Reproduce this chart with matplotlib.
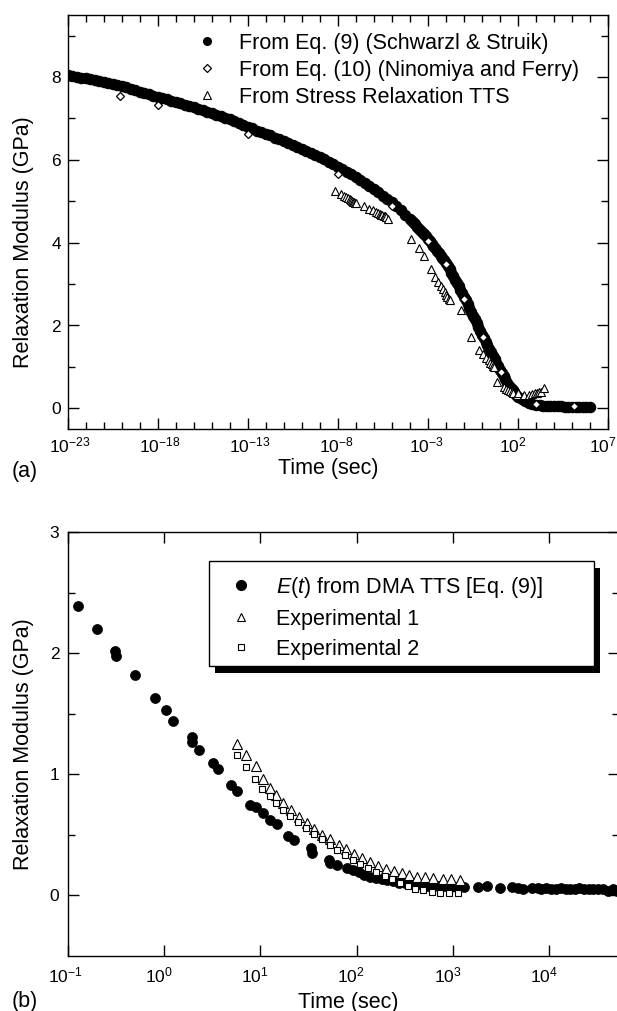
import numpy as np
import matplotlib
matplotlib.use("Agg")
import matplotlib.pyplot as plt
from matplotlib.ticker import FixedLocator, NullFormatter, NullLocator
from matplotlib.patches import Rectangle
from matplotlib.lines import Line2D
from matplotlib.transforms import ScaledTranslation

plt.rcParams['font.family'] = ['Liberation Sans', 'DejaVu Sans']
plt.rcParams['mathtext.fontset'] = 'custom'
plt.rcParams['mathtext.rm'] = 'Liberation Sans'
plt.rcParams['mathtext.it'] = 'Liberation Sans:italic'
plt.rcParams['mathtext.bf'] = 'Liberation Sans:bold'

# ---------------- Panel (a) data: log10(time / s) and modulus (GPa) ----------------
a_eq9_logt = [
    -23.0, -22.75, -22.5, -22.25, -22.0, -21.75, -21.5, -21.25, -21.0, -20.75,
    -20.5, -20.25, -20.0, -19.75, -19.5, -19.25, -19.0, -18.75, -18.5, -18.25,
    -18.0, -17.75, -17.5, -17.25, -17.0, -16.75, -16.5, -16.25, -16.0, -15.75,
    -15.5, -15.25, -15.0, -14.75, -14.5, -14.25, -14.0, -13.75, -13.5, -13.25,
    -13.0, -12.75, -12.5, -12.25, -12.0, -11.75, -11.5, -11.25, -11.0, -10.75,
    -10.5, -10.25, -10.0, -9.75, -9.5, -9.25, -9.0, -8.75, -8.5, -8.25,
    -8.0, -7.75, -7.5, -7.25, -7.0, -6.75, -6.5, -6.25, -6.0, -5.75,
    -5.5, -5.25, -5.0, -4.75, -4.5, -4.25,
    -4.0, -3.9, -3.8, -3.7, -3.6, -3.5, -3.4, -3.3, -3.2, -3.1,
    -3.0, -2.9, -2.8, -2.7, -2.6, -2.5, -2.4, -2.3, -2.2, -2.1,
    -2.0, -1.9, -1.8, -1.7, -1.6, -1.5, -1.4, -1.3, -1.2, -1.1,
    -1.0, -0.9, -0.8, -0.7, -0.6, -0.5, -0.4, -0.3, -0.2, -0.1,
    0.0, 0.1, 0.2, 0.3, 0.4, 0.5, 0.6, 0.7, 0.8, 0.9,
    1.0, 1.1, 1.2, 1.3, 1.4, 1.5, 1.6, 1.7, 1.8, 1.9,
    2.0, 2.2, 2.4, 2.6, 2.8, 3.0, 3.2, 3.4, 3.6, 3.8,
    4.0, 4.2, 4.4, 4.6, 4.8, 5.0, 5.2, 5.4, 5.6, 5.8, 6.0,
]
a_eq9_E = [
    8.05, 8.03, 8.01, 7.99, 7.97, 7.95, 7.92, 7.90, 7.88, 7.85,
    7.83, 7.80, 7.78, 7.75, 7.71, 7.68, 7.65, 7.62, 7.58, 7.55,
    7.52, 7.49, 7.46, 7.43, 7.40, 7.37, 7.33, 7.30, 7.27, 7.23,
    7.20, 7.16, 7.13, 7.09, 7.05, 7.02, 6.98, 6.93, 6.89, 6.84,
    6.80, 6.76, 6.71, 6.67, 6.63, 6.59, 6.54, 6.50, 6.46, 6.41,
    6.36, 6.32, 6.27, 6.22, 6.17, 6.12, 6.07, 6.01, 5.96, 5.90,
    5.84, 5.78, 5.71, 5.65, 5.58, 5.51, 5.44, 5.37, 5.30, 5.22,
    5.14, 5.06, 4.98, 4.88, 4.78, 4.68,
    4.58, 4.53, 4.48, 4.44, 4.39, 4.34, 4.29, 4.24, 4.20, 4.15,
    4.10, 4.04, 3.98, 3.93, 3.87, 3.81, 3.75, 3.69, 3.64, 3.58,
    3.52, 3.44, 3.36, 3.27, 3.19, 3.11, 3.03, 2.95, 2.86, 2.78,
    2.70, 2.61, 2.52, 2.42, 2.33, 2.24, 2.15, 2.06, 1.96, 1.87,
    1.78, 1.69, 1.61, 1.52, 1.44, 1.35, 1.26, 1.18, 1.09, 1.01,
    0.92, 0.85, 0.77, 0.70, 0.62, 0.55, 0.50, 0.44, 0.39, 0.33,
    0.28, 0.22, 0.17, 0.13, 0.10, 0.08, 0.07, 0.06, 0.06, 0.05,
    0.05, 0.05, 0.05, 0.04, 0.04, 0.04, 0.04, 0.04, 0.04, 0.04, 0.04,
]
a_eq10_logt = [-20.1, -18.0, -13.0, -8.0, -5.0, -3.0, -2.0, -1.0, 0.05, 1.04, 3.0, 5.1]
a_eq10_E = [7.55, 7.32, 6.62, 5.67, 4.89, 4.04, 3.48, 2.65, 1.72, 0.87, 0.10, 0.05]
a_tts_logt = [
    -8.17, -7.85, -7.68, -7.55, -7.45, -7.36, -7.28, -7.21, -7.15, -7.09, -7.03, -6.98,
    -6.55, -6.25, -6.05, -5.90, -5.78, -5.68, -5.60, -5.53, -5.47, -5.41, -5.36, -5.20,
    -3.97, -3.51, -3.23, -2.86, -2.60, -2.42, -2.28, -2.17, -2.07, -1.99, -1.92, -1.86, -1.80,
    -1.19, -0.63, -0.17, 0.08, 0.25, 0.37, 0.47, 0.55, 0.62, 0.67,
    0.85, 1.20, 1.35, 1.47, 1.57, 1.65, 1.72, 1.97,
    1.99, 2.36, 2.60, 2.80, 2.95, 3.08, 3.18, 3.28, 3.47,
]
a_tts_E = [
    5.25, 5.17, 5.13, 5.10, 5.07, 5.05, 5.03, 5.01, 4.99, 4.98, 4.96, 4.95,
    4.88, 4.82, 4.78, 4.74, 4.72, 4.70, 4.68, 4.66, 4.65, 4.64, 4.62, 4.57,
    4.09, 3.86, 3.68, 3.36, 3.17, 3.05, 2.95, 2.87, 2.80, 2.74, 2.69, 2.65, 2.61,
    2.38, 1.73, 1.41, 1.30, 1.22, 1.16, 1.10, 1.06, 1.02, 0.99,
    0.64, 0.52, 0.47, 0.44, 0.41, 0.39, 0.37, 0.32,
    0.36, 0.32, 0.33, 0.35, 0.37, 0.38, 0.39, 0.40, 0.48,
]
a_labels = ["From Eq. (9) (Schwarzl & Struik)",
            "From Eq. (10) (Ninomiya and Ferry)",
            "From Stress Relaxation TTS"]
a_xtick_exp = [-23, -18, -13, -8, -3, 2, 7]
a_yticks = [0, 2, 4, 6, 8]
a_yminor = [1, 3, 5, 7, 9]

# ---------------- Panel (b) data ----------------
b_dma_logt = [
    -0.897, -0.70, -0.505, -0.50, -0.305, -0.097, 0.022, 0.096, 0.29, 0.295,
    0.36, 0.505, 0.56, 0.70, 0.76, 0.89, 0.96, 1.03, 1.10, 1.17,
    1.29, 1.355, 1.53, 1.54, 1.71, 1.72, 1.80, 1.90, 1.96, 2.02,
    2.08, 2.14, 2.20, 2.26, 2.32, 2.38, 2.44, 2.50, 2.56, 2.62,
    2.68, 2.74, 2.80, 2.86, 2.92, 2.98, 3.04, 3.12, 3.26, 3.35,
    3.49, 3.61, 3.68, 3.73, 3.82, 3.88, 3.92, 3.97, 4.02, 4.07,
    4.12, 4.17, 4.22, 4.27, 4.31, 4.36, 4.41, 4.46, 4.51, 4.56,
    4.61, 4.66, 4.70,
]
b_dma_E = [
    2.39, 2.20, 2.02, 1.98, 1.82, 1.63, 1.53, 1.44, 1.31, 1.27,
    1.20, 1.09, 1.04, 0.91, 0.86, 0.75, 0.73, 0.68, 0.62, 0.59,
    0.49, 0.46, 0.39, 0.35, 0.29, 0.27, 0.25, 0.23, 0.21, 0.19,
    0.17, 0.155, 0.145, 0.135, 0.125, 0.115, 0.105, 0.10, 0.095, 0.09,
    0.085, 0.08, 0.08, 0.075, 0.075, 0.07, 0.07, 0.07, 0.07, 0.08,
    0.06, 0.07, 0.06, 0.05, 0.06, 0.06, 0.05, 0.06, 0.05, 0.05,
    0.06, 0.05, 0.05, 0.05, 0.06, 0.05, 0.05, 0.05, 0.05, 0.05,
    0.04, 0.05, 0.04,
]
b_exp1_logt = [
    0.762, 0.852, 0.954, 1.028, 1.098, 1.159, 1.233, 1.322, 1.404, 1.486,
    1.560, 1.641, 1.723, 1.813, 1.895, 1.976, 2.058, 2.140, 2.222, 2.303,
    2.385, 2.467, 2.548, 2.630, 2.712, 2.794, 2.896, 2.978, 3.072,
]
b_exp1_E = [
    1.25, 1.16, 1.065, 0.96, 0.886, 0.83, 0.767, 0.707, 0.646, 0.597,
    0.547, 0.50, 0.464, 0.417, 0.382, 0.34, 0.307, 0.28, 0.244, 0.219,
    0.202, 0.183, 0.169, 0.155, 0.15, 0.142, 0.136, 0.134, 0.128,
]
b_exp2_logt = [
    0.762, 0.852, 0.946, 1.016, 1.098, 1.159, 1.233, 1.310, 1.390, 1.470,
    1.560, 1.641, 1.723, 1.800, 1.880, 1.960, 2.040, 2.120, 2.200, 2.290,
    2.370, 2.450, 2.530, 2.610, 2.690, 2.780, 2.870, 2.960, 3.050,
]
b_exp2_E = [
    1.161, 1.058, 0.96, 0.878, 0.817, 0.762, 0.707, 0.658, 0.603, 0.556,
    0.507, 0.466, 0.419, 0.378, 0.337, 0.296, 0.263, 0.228, 0.192, 0.159,
    0.132, 0.105, 0.077, 0.055, 0.041, 0.028, 0.022, 0.022, 0.022,
]
b_labels = [r"$E$($t$) from DMA TTS [Eq. (9)]", "Experimental 1", "Experimental 2"]
b_xtick_exp = [-1, 0, 1, 2, 3, 4]
b_yticks = [0, 1, 2, 3]
b_yminor = [0.5, 1.5, 2.5]

# ---------------- Figure ----------------
W, H = 617, 1011
fig = plt.figure(figsize=(W / 100, H / 100), dpi=100)
fig.patch.set_facecolor('white')

def px_axes(l, t, r, b):
    return [l / W, 1 - b / H, (r - l) / W, (b - t) / H]

LABEL_FS = 15.5
TICK_FS = 12.5
# base "10" of each power label ends at its tick (superscript starts at tick)
base_shift = ScaledTranslation(-(2 * 0.556 * TICK_FS) / 72.0, 0, fig.dpi_scale_trans)

def power_labels(ax, exps):
    ax.set_xticks([10.0 ** e for e in exps])
    ax.set_xticklabels([r"$10^{%d}$" % e for e in exps])
    for lab in ax.get_xticklabels():
        lab.set_horizontalalignment('left')
        lab.set_transform(lab.get_transform() + base_shift)

# ---- Panel (a) ----
ax1 = fig.add_axes(px_axes(68, 15, 608, 429))
ax1.set_xscale('log')
ax1.plot(np.power(10.0, a_eq9_logt), a_eq9_E, ls='none', marker='o', ms=7.5,
         mfc='black', mec='black', mew=0.8, zorder=2, label=a_labels[0])
ax1.plot(np.power(10.0, a_eq10_logt), a_eq10_E, ls='none', marker='D', ms=4.0,
         mfc='white', mec='black', mew=0.9, zorder=4, label=a_labels[1])
ax1.plot(np.power(10.0, a_tts_logt), a_tts_E, ls='none', marker='^', ms=6.0,
         mfc='white', mec='black', mew=0.8, zorder=3, label=a_labels[2])
ax1.set_xlim(10.0 ** -23, 10.0 ** 7)
ax1.set_ylim(-0.5, 9.5)
ax1.xaxis.set_minor_locator(FixedLocator([10.0 ** e for e in range(-23, 8)]))
ax1.xaxis.set_minor_formatter(NullFormatter())
ax1.set_yticks(a_yticks)
ax1.set_yticklabels([str(v) for v in a_yticks])
ax1.yaxis.set_minor_locator(FixedLocator(a_yminor))
ax1.tick_params(which='both', direction='in', top=True, right=True, width=1.0,
                labelsize=TICK_FS)
ax1.tick_params(which='major', length=8)
ax1.tick_params(which='minor', length=5)
ax1.tick_params(axis='x', pad=5)
ax1.tick_params(axis='y', pad=5)
power_labels(ax1, a_xtick_exp)
for s in ax1.spines.values():
    s.set_linewidth(1.0)
ax1.set_xlabel("Time (sec)", fontsize=LABEL_FS)
ax1.set_ylabel("Relaxation Modulus (GPa)", fontsize=LABEL_FS)
ax1.xaxis.set_label_coords((328 - 68) / 540, (429 - 458) / 414)
ax1.yaxis.set_label_coords((34 - 68) / 540, (429 - 242) / 414)

h_a = [Line2D([], [], ls='none', marker='o', ms=5.5, mfc='black', mec='black'),
       Line2D([], [], ls='none', marker='D', ms=3.8, mfc='white', mec='black', mew=0.9),
       Line2D([], [], ls='none', marker='^', ms=5.5, mfc='white', mec='black', mew=0.8)]
leg_a = ax1.legend(h_a, a_labels, loc='upper left',
                   bbox_to_anchor=((196.6 - 68) / 540, 1 - (33 - 15) / 414),
                   frameon=False, fontsize=LABEL_FS, borderpad=0, borderaxespad=0,
                   handlelength=1.0, handletextpad=0.95, labelspacing=0.27)

fig.text(12 / W, 1 - 471 / H, "(a)", fontsize=LABEL_FS, ha='left', va='center')

# ---- Panel (b) ----
ax2 = fig.add_axes(px_axes(67.7, 532, 618.5, 956))
ax2.set_xscale('log')
ax2.plot(np.power(10.0, b_dma_logt), b_dma_E, ls='none', marker='o', ms=7.2,
         mfc='black', mec='black', mew=0.5, zorder=2, label=b_labels[0])
ax2.plot(np.power(10.0, b_exp1_logt), b_exp1_E, ls='none', marker='^', ms=6.5,
         mfc='white', mec='black', mew=0.8, zorder=3, label=b_labels[1])
ax2.plot(np.power(10.0, b_exp2_logt), b_exp2_E, ls='none', marker='s', ms=5.0,
         mfc='white', mec='black', mew=0.8, zorder=3.5, label=b_labels[2])
ax2.set_xlim(10.0 ** -1, 10.0 ** (-1 + (618.5 - 67.7) / 96.3))
ax2.set_ylim(-0.5, 3)
ax2.xaxis.set_minor_locator(NullLocator())
ax2.set_yticks(b_yticks)
ax2.set_yticklabels([str(v) for v in b_yticks])
ax2.yaxis.set_minor_locator(FixedLocator(b_yminor))
ax2.tick_params(which='both', direction='in', top=True, right=True, width=1.0,
                labelsize=TICK_FS)
ax2.tick_params(which='major', length=8)
ax2.tick_params(which='minor', length=5)
ax2.tick_params(axis='x', pad=7)
ax2.tick_params(axis='y', pad=6)
power_labels(ax2, b_xtick_exp)
for s in ax2.spines.values():
    s.set_linewidth(1.0)
ax2.set_xlabel("Time (sec)", fontsize=LABEL_FS)
ax2.set_ylabel("Relaxation Modulus (GPa)", fontsize=LABEL_FS)
ax2.xaxis.set_label_coords((348.6 - 67.7) / 550.8, (956 - 992) / 424)
ax2.yaxis.set_label_coords((34 - 67.7) / 550.8, 0.5)

# legend frame with solid drop shadow
bx0, by0, bx1, by1 = 208.7, 561, 594, 666
shadow = Rectangle(((bx0 + 6) / W, 1 - (by1 + 7) / H), (bx1 - bx0) / W, (by1 - by0) / H,
                   transform=fig.transFigure, facecolor='black', edgecolor='black',
                   lw=0, zorder=4, clip_on=False)
frame = Rectangle((bx0 / W, 1 - by1 / H), (bx1 - bx0) / W, (by1 - by0) / H,
                  transform=fig.transFigure, facecolor='white', edgecolor='black',
                  lw=1.0, zorder=4.2, clip_on=False)
ax2.add_patch(shadow)
ax2.add_patch(frame)

h_b = [Line2D([], [], ls='none', marker='o', ms=7.0, mfc='black', mec='black'),
       Line2D([], [], ls='none', marker='^', ms=5.5, mfc='white', mec='black', mew=0.8),
       Line2D([], [], ls='none', marker='s', ms=4.5, mfc='white', mec='black', mew=0.8)]
leg_b = ax2.legend(h_b, b_labels, loc='upper left',
                   bbox_to_anchor=((230.6 - 67.7) / 550.8, 1 - (575 - 532) / 424),
                   frameon=False, fontsize=LABEL_FS, borderpad=0, borderaxespad=0,
                   handlelength=1.0, handletextpad=1.12, labelspacing=0.41)
leg_b.set_zorder(5)

fig.text(12 / W, 1 - 1001 / H, "(b)", fontsize=LABEL_FS, ha='left', va='center')

fig.savefig("out.png", dpi=100, facecolor='white')
